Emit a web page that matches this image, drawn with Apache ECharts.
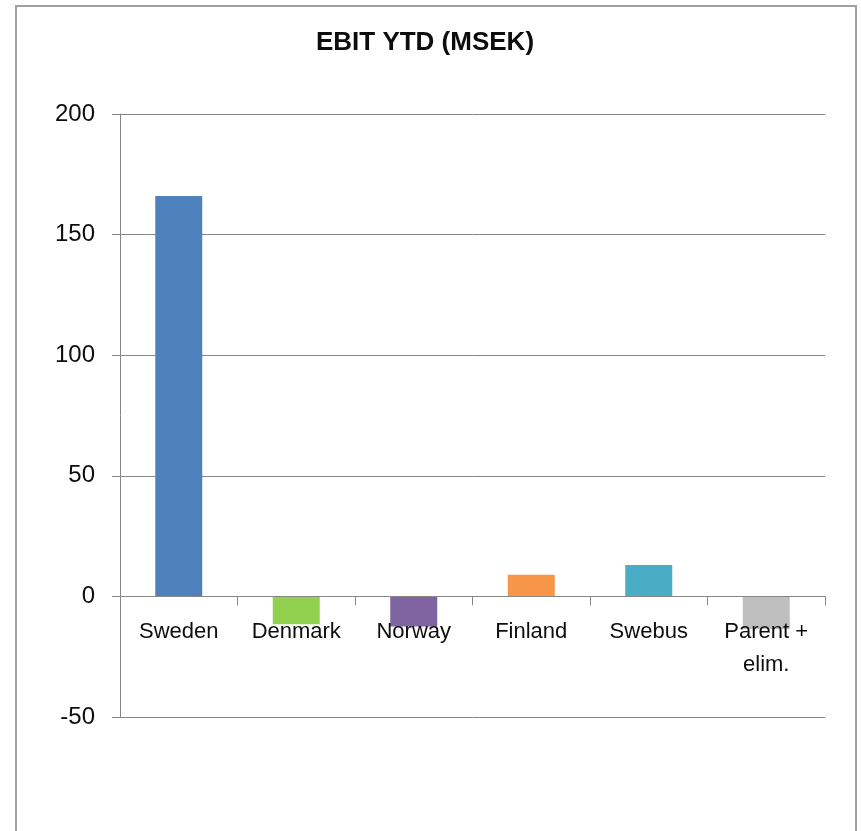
<!DOCTYPE html>
<html>
<head>
<meta charset="utf-8">
<script src="https://cdn.jsdelivr.net/npm/echarts@6/dist/echarts.min.js"></script>
<style>
html,body{margin:0;padding:0;background:#fff;}
#chart{width:861px;height:831px;}
</style>
</head>
<body>
<div id="chart"></div>
<script>
const categories = ["Sweden", "Denmark", "Norway", "Finland", "Swebus", "Parent +\nelim."];
const values = [166, -11.5, -12.5, 9, 13, -13.5];
const barColors = ["#4F81BD", "#92D050", "#8064A2", "#F79646", "#4BACC6", "#BFBFBF"];
const yTicks = { min: -50, max: 200, interval: 50 };
const titleText = "EBIT YTD (MSEK)";

const chart = echarts.init(document.getElementById('chart'), null, { renderer: 'canvas' });
const axisGrey = '#868686';
const font = '"Liberation Sans", Arial, sans-serif';
chart.setOption({
  backgroundColor: '#ffffff',
  animation: false,
  title: {
    text: titleText,
    left: 420,
    textAlign: 'center',
    top: 25,
    textStyle: { fontFamily: font, fontSize: 26, fontWeight: 'bold', color: '#0d0d0d' }
  },
  graphic: [{
    type: 'rect',
    shape: { x: 16, y: 6, width: 840, height: 900 },
    style: { fill: 'none', stroke: '#a0a0a0', lineWidth: 2 },
    silent: true
  }],
  grid: { left: 120, right: 36, top: 114, bottom: 114, containLabel: false },
  xAxis: {
    type: 'category',
    data: categories,
    boundaryGap: true,
    axisLine: { show: true, onZero: true, lineStyle: { color: axisGrey, width: 1 } },
    axisTick: { show: true, length: 9, interval: 0, lineStyle: { color: axisGrey } },
    axisLabel: {
      interval: 0,
      margin: -102,
      fontFamily: font,
      fontSize: 22,
      lineHeight: 33,
      color: '#0d0d0d'
    },
    z: 10
  },
  yAxis: {
    type: 'value',
    min: yTicks.min,
    max: yTicks.max,
    interval: yTicks.interval,
    axisLine: { show: true, lineStyle: { color: axisGrey, width: 1 } },
    axisTick: { show: true, length: 8, lineStyle: { color: axisGrey } },
    axisLabel: { margin: 25, fontFamily: font, fontSize: 24, color: '#0d0d0d' },
    splitLine: { show: true, lineStyle: { color: axisGrey, width: 1 } }
  },
  series: [{
    type: 'bar',
    data: values.map((v, i) => ({ value: v, itemStyle: { color: barColors[i] } })),
    barWidth: '40%',
    z: 2
  }]
});
</script>
</body>
</html>
